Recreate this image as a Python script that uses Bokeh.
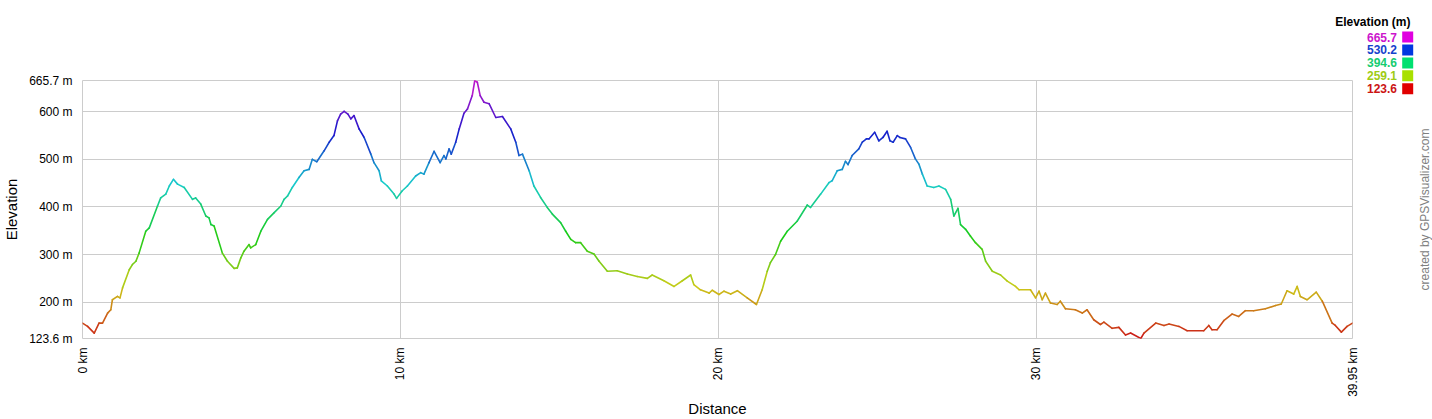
import math
import colorsys
from bokeh.plotting import figure
from bokeh.layouts import row
from bokeh.models import Range1d, FixedTicker, ColumnDataSource
from bokeh.core.properties import value
from bokeh.transform import linear_cmap
from bokeh.embed import file_html
from bokeh.resources import INLINE

# ---------------- data ----------------
distance_km = [
    0.00, 0.16, 0.37, 0.52, 0.63, 0.79, 0.89, 0.94, 1.10, 1.18, 1.26, 1.47, 1.57, 1.68, 1.78,
    1.99, 2.10, 2.36, 2.46, 2.62, 2.73, 2.86, 2.99, 3.20, 3.46, 3.56, 3.72, 3.88, 3.98, 4.04,
    4.14, 4.40, 4.56, 4.77, 4.87, 4.98, 5.08, 5.24, 5.29, 5.45, 5.61, 5.82, 6.03, 6.24, 6.34,
    6.45, 6.60, 6.81, 6.97, 7.13, 7.23, 7.37, 7.60, 7.76, 7.91, 8.02, 8.12, 8.23, 8.35, 8.44,
    8.54, 8.70, 8.86, 9.07, 9.17, 9.33, 9.40, 9.59, 9.80, 9.88, 10.06, 10.22, 10.48, 10.64,
    10.74, 10.90, 11.06, 11.25, 11.37, 11.43, 11.53, 11.60, 11.74, 11.85, 12.00, 12.11, 12.26,
    12.34, 12.42, 12.51, 12.63, 12.79, 13.00, 13.21, 13.47, 13.63, 13.73, 13.84, 14.05, 14.20,
    14.41, 14.62, 14.78, 15.04, 15.20, 15.36, 15.51, 15.67, 15.88, 16.09, 16.25, 16.51, 16.82,
    17.14, 17.45, 17.77, 17.92, 18.29, 18.61, 18.87, 19.13, 19.23, 19.44, 19.71, 19.81, 20.02,
    20.18, 20.39, 20.60, 20.91, 21.20, 21.38, 21.54, 21.64, 21.80, 21.96, 22.17, 22.48, 22.80,
    22.90, 23.22, 23.48, 23.58, 23.74, 23.90, 24.00, 24.08, 24.21, 24.42, 24.53, 24.66, 24.74,
    24.92, 25.05, 25.18, 25.31, 25.40, 25.50, 25.63, 25.71, 25.89, 26.05, 26.20, 26.31, 26.42,
    26.57, 26.78, 26.94, 27.15, 27.31, 27.41, 27.54, 27.62, 27.78, 27.93, 28.09, 28.30, 28.41,
    28.62, 28.88, 29.09, 29.35, 29.46, 29.82, 29.98, 30.09, 30.19, 30.29, 30.45, 30.66, 30.76,
    30.92, 31.23, 31.45, 31.60, 31.81, 32.02, 32.13, 32.39, 32.60, 32.81, 32.97, 33.29, 33.39,
    33.76, 34.02, 34.18, 34.49, 34.75, 35.27, 35.43, 35.53, 35.69, 35.90, 36.16, 36.37, 36.58,
    36.84, 37.21, 37.53, 37.71, 37.89, 38.10, 38.21, 38.31, 38.52, 38.81, 39.00, 39.31, 39.41,
    39.60, 39.78, 39.95,
]
elevation_m = [
    156, 149, 135, 156, 156, 177, 184, 205, 212, 209, 230, 268, 279, 286, 303,
    349, 356, 402, 419, 427, 444, 458, 448, 441, 416, 419, 406, 381, 377, 363,
    360, 303, 286, 271, 272, 293, 307, 321, 314, 321, 349, 374, 388, 402, 416,
    423, 441, 462, 476, 479, 500, 495, 518, 536, 550, 581, 595, 601, 595, 585,
    592, 564, 546, 511, 493, 476, 455, 444, 427, 418, 434, 444, 465, 472,
    469, 493, 517, 493, 508, 501, 522, 511, 536, 564, 597, 606, 634,
    665.7, 662, 634, 620, 617, 588, 590, 564, 536, 508, 511, 476, 444,
    420, 399, 385, 367, 349, 332, 325, 325, 307, 301, 286, 265, 266,
    259, 254, 250, 257, 245, 233, 245, 257, 237, 226, 219, 225, 216,
    223, 217, 224, 209, 195, 226, 265, 283, 300, 328, 349, 370, 404,
    399, 427, 451, 455, 476, 479, 496, 489, 508, 522, 536, 543, 543,
    557, 539, 546, 559, 539, 536, 550, 546, 543, 525, 501, 490, 469,
    444, 441, 444, 437, 416, 381, 397, 363, 353, 339, 325, 311, 286,
    265, 257, 244, 233, 226, 226, 209, 223, 205, 219, 198, 195, 202,
    186, 184, 177, 184, 163, 153, 158, 145, 147, 131, 135, 123.6, 135,
    156, 151, 154, 149, 140, 140, 151, 142, 142, 161, 175, 170, 182,
    182, 186, 193, 196, 224, 217, 233, 212, 205, 221, 202, 156, 151,
    137, 149, 156,
]

x_ticks = [0, 10, 20, 30, 39.95]
x_tick_labels = ["0 km", "10 km", "20 km", "30 km", "39.95 km"]
y_ticks = [123.6, 200, 300, 400, 500, 600, 665.7]
y_tick_labels = ["123.6 m", "200 m", "300 m", "400 m", "500 m", "600 m", "665.7 m"]
legend_values = [665.7, 530.2, 394.6, 259.1, 123.6]
legend_labels = ["665.7", "530.2", "394.6", "259.1", "123.6"]
legend_title = "Elevation (m)"
credit_text = "created by GPSVisualizer.com"

ELEV_MIN, ELEV_MAX = 123.6, 665.7
FONT = "Liberation Sans"


def hsv_hex(h, s, v):
    r, g, b = colorsys.hsv_to_rgb(h, s, v)
    return "#%02x%02x%02x" % (int(r * 255), int(g * 255), int(b * 255))


line_palette = [hsv_hex((i / 255) * 300 / 360, 0.88, 0.80) for i in range(256)]


def legend_color(val):
    frac = (val - ELEV_MIN) / (ELEV_MAX - ELEV_MIN)
    return hsv_hex(frac * 300 / 360, 1.0, 0.88)


def text_color(val):
    frac = (val - ELEV_MIN) / (ELEV_MAX - ELEV_MIN)
    return hsv_hex(frac * 300 / 360, 0.9, 0.80)


# ---------------- main figure ----------------
W, H = 1432, 419
BL, BR, BT, BB = 80, 80, 80, 81
p = figure(
    width=W, height=H, output_backend="svg", toolbar_location=None,
    x_range=Range1d(0, 39.95), y_range=Range1d(ELEV_MIN, ELEV_MAX),
    min_border_left=BL, min_border_right=BR, min_border_top=BT, min_border_bottom=BB,
    background_fill_color="white", border_fill_color="white",
)
p.frame_align = False
p.outline_line_color = "#cccccc"
p.outline_line_width = 1

segs = ColumnDataSource(dict(
    x0=distance_km[:-1], x1=distance_km[1:],
    y0=elevation_m[:-1], y1=elevation_m[1:],
    mid=[(a + b) / 2 for a, b in zip(elevation_m[:-1], elevation_m[1:])],
))
p.segment("x0", "y0", "x1", "y1", source=segs, line_width=1.6,
          line_color=linear_cmap("mid", line_palette, ELEV_MIN, ELEV_MAX),
          line_cap="round")

xa = p.xaxis[0]
xa.ticker = FixedTicker(ticks=x_ticks)
xa.major_label_overrides = {t: l for t, l in zip(x_ticks, x_tick_labels)}
xa.major_label_orientation = math.pi / 2
xa.axis_label = "Distance"
ya = p.yaxis[0]
ya.ticker = FixedTicker(ticks=y_ticks)
ya.major_label_overrides = {t: l for t, l in zip(y_ticks, y_tick_labels)}
ya.axis_label = "Elevation"

for ax in (xa, ya):
    ax.axis_line_color = None
    ax.major_tick_line_color = None
    ax.minor_tick_line_color = None
    ax.major_label_text_font = FONT
    ax.major_label_text_font_size = "12px"
    ax.major_label_text_color = "#000000"
    ax.axis_label_text_font = FONT
    ax.axis_label_text_font_size = "15px"
    ax.axis_label_text_font_style = "normal"
    ax.axis_label_text_color = "#000000"
    ax.major_label_standoff = 4
xa.axis_label_standoff = 0
xa.major_label_standoff = 3
ya.axis_label_standoff = 6

for g in (p.xgrid[0], p.ygrid[0]):
    g.grid_line_color = "#cccccc"
    g.grid_line_width = 1
p.xgrid[0].ticker = FixedTicker(ticks=x_ticks)
p.ygrid[0].ticker = FixedTicker(ticks=y_ticks)

# ---------------- transparent overlay for legend + credit (top-right corner) ----------------
OV_LEFT, OV_TOP, OV_W, OV_H = 1320, 5, 112, 300
ov = figure(
    width=OV_W, height=OV_H, output_backend="svg", toolbar_location=None,
    x_range=Range1d(OV_LEFT, OV_LEFT + OV_W), y_range=Range1d(OV_TOP + OV_H, OV_TOP),
    x_axis_type=None, y_axis_type=None, min_border=0,
    background_fill_color=None, border_fill_color=None, outline_line_color=None,
)
ov.frame_align = False
ov.xgrid.visible = False
ov.ygrid.visible = False
ov.margin = (OV_TOP, 0, 0, -(W - OV_LEFT))

row_y = [36.5 + i * 12.95 for i in range(len(legend_values))]
leg_src = ColumnDataSource(dict(
    y=row_y,
    tx=[1396.5] * len(legend_values),
    sx=[1407.2] * len(legend_values),
    label=legend_labels,
    tcol=[text_color(v) for v in legend_values],
    scol=[legend_color(v) for v in legend_values],
))
ov.text(x=1410, y=21.5, text=[legend_title], text_font=value(FONT), text_font_size="12px",
        text_font_style="bold", text_color="#000000", text_align="right",
        text_baseline="middle")
ov.text(x="tx", y="y", text="label", source=leg_src, text_font=value(FONT),
        text_font_size="12px", text_font_style="bold", text_color="tcol",
        text_align="right", text_baseline="middle")
ov.rect(x="sx", y="y", width=11, height=11, width_units="screen", height_units="screen",
        source=leg_src, fill_color="scol", line_color=None)
ov.text(x=1424, y=209, text=[credit_text], angle=math.pi / 2, text_font=value(FONT),
        text_font_size="12px", text_color="#808080", text_align="center",
        text_baseline="middle")

layout = row(p, ov)
open("out.html", "w").write(file_html(layout, INLINE))
